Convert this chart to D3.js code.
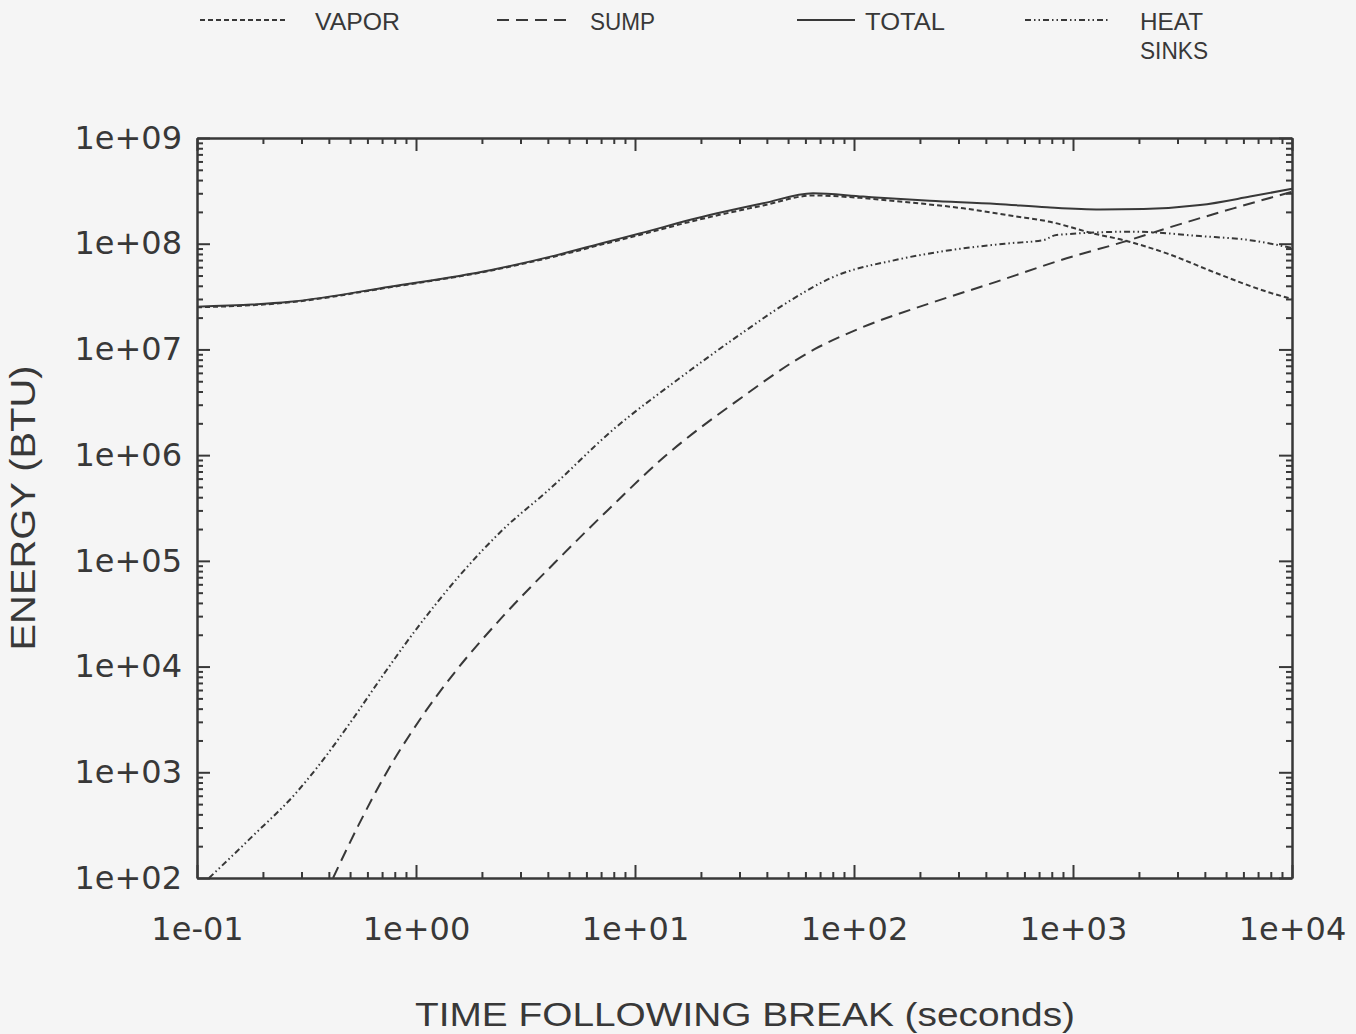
<!DOCTYPE html>
<html>
<head>
<meta charset="utf-8">
<script src="https://cdn.jsdelivr.net/npm/d3@7"></script>
<style>
  html, body { margin: 0; padding: 0; background: #f5f5f5; }
  svg { display: block; }
</style>
</head>
<body>
<script>
// Energy distribution vs time after break (log-log)
const totalTime   = [0.1, 0.266, 0.76, 2.18, 4.39, 7.43, 10.5, 19.1, 38.5, 65, 110, 222, 449, 760, 1330, 2100, 3800, 6430, 10000];
const totalEnergy = [2.54e7, 2.82e7, 3.92e7, 5.62e7, 7.8e7, 1.04e8, 1.25e8, 1.74e8, 2.41e8, 3.0e8, 2.79e8, 2.55e8, 2.38e8, 2.21e8, 2.11e8, 2.13e8, 2.32e8, 2.79e8, 3.31e8];

const vaporTime   = [0.1, 0.266, 0.76, 2.18, 4.39, 7.43, 10.5, 19.1, 38.5, 65, 110, 168, 316, 533, 785, 1240, 1700, 2680, 4530, 7660, 10000];
const vaporEnergy = [2.5e7, 2.79e7, 3.87e7, 5.55e7, 7.65e7, 1.01e8, 1.21e8, 1.67e8, 2.3e8, 2.86e8, 2.7e8, 2.49e8, 2.16e8, 1.83e8, 1.61e8, 1.25e8, 1.08e8, 8.1e7, 5.25e7, 3.52e7, 3.0e7];

const sumpTime   = [0.418, 0.55, 0.72, 1.05, 1.51, 2.51, 4.32, 7.59, 13.7, 28.8, 66.4, 110, 222, 449, 935, 1700, 2680, 5400, 10000];
const sumpEnergy = [100, 325, 929, 3230, 8930, 3.03e4, 9.7e4, 3.08e5, 9.75e5, 3.19e6, 1.01e7, 1.63e7, 2.73e7, 4.38e7, 7.28e7, 1.04e8, 1.4e8, 2.16e8, 3.1e8];

const sinksTime   = [0.1135, 0.178, 0.282, 0.355, 0.501, 0.708, 1.0, 1.58, 2.51, 3.98, 7.94, 15.8, 31.6, 50.1, 79.4, 158, 316, 515, 731, 841, 1890, 3800, 6430, 10000];
const sinksEnergy = [100, 245, 631, 1120, 2950, 8320, 2.24e4, 7.24e4, 2.0e5, 4.57e5, 1.74e6, 5.25e6, 1.48e7, 2.82e7, 4.79e7, 7.08e7, 9.04e7, 1.01e8, 1.08e8, 1.21e8, 1.3e8, 1.18e8, 1.08e8, 9.1e7];

const xDomain = [0.1, 1e4];
const yDomain = [1e2, 1e9];

const legendLabels = ["VAPOR", "SUMP", "TOTAL", "HEAT SINKS"];

const width = 1356;
const height = 1034;
const plot = { left: 197, right: 1292, top: 138, bottom: 878 };
const ink = "#383838";

const svg = d3.select("body").append("svg")
    .attr("width", width)
    .attr("height", height);

svg.append("rect")
    .attr("width", width)
    .attr("height", height)
    .attr("fill", "#f5f5f5");

const x = d3.scaleLog().domain(xDomain).range([plot.left, plot.right]);
const y = d3.scaleLog().domain(yDomain).range([plot.bottom, plot.top]);

// powers of ten and the 2..9 minors in between
function decades(domain) {
    const lo = Math.round(Math.log10(domain[0]));
    const hi = Math.round(Math.log10(domain[1]));
    const major = [], minor = [];
    for (let p = lo; p <= hi; p++) {
        major.push(Math.pow(10, p));
        if (p < hi) for (let k = 2; k <= 9; k++) minor.push(k * Math.pow(10, p));
    }
    return { major, minor };
}
const xt = decades(xDomain);
const yt = decades(yDomain);

const fmt = d => {
    const e = Math.round(Math.log10(d));
    return "1e" + (e < 0 ? "-" : "+") + String(Math.abs(e)).padStart(2, "0");
};

function styleAxis(g) {
    g.selectAll("path").attr("stroke", ink).attr("stroke-width", 2);
    g.selectAll("line").attr("stroke", ink).attr("stroke-width", 2);
    g.selectAll("text")
        .attr("fill", ink)
        .style("font-family", "'DejaVu Sans', sans-serif")
        .style("font-size", "32px");
}

// bottom
svg.append("g").attr("transform", `translate(0,${plot.bottom})`)
    .call(d3.axisBottom(x).tickValues(xt.minor).tickSize(-6).tickSizeOuter(0).tickFormat(""))
    .call(styleAxis);
svg.append("g").attr("transform", `translate(0,${plot.bottom})`)
    .call(d3.axisBottom(x).tickValues(xt.major).tickSize(-13).tickSizeOuter(0).tickPadding(39).tickFormat(fmt))
    .call(styleAxis);
// top
svg.append("g").attr("transform", `translate(0,${plot.top})`)
    .call(d3.axisTop(x).tickValues(xt.minor).tickSize(-6).tickSizeOuter(0).tickFormat(""))
    .call(styleAxis);
svg.append("g").attr("transform", `translate(0,${plot.top})`)
    .call(d3.axisTop(x).tickValues(xt.major).tickSize(-13).tickSizeOuter(0).tickFormat(""))
    .call(styleAxis);
// left
svg.append("g").attr("transform", `translate(${plot.left},0)`)
    .call(d3.axisLeft(y).tickValues(yt.minor).tickSize(-6).tickSizeOuter(0).tickFormat(""))
    .call(styleAxis);
svg.append("g").attr("transform", `translate(${plot.left},0)`)
    .call(d3.axisLeft(y).tickValues(yt.major).tickSize(-13).tickSizeOuter(0).tickPadding(15).tickFormat(fmt))
    .call(styleAxis);
// right
svg.append("g").attr("transform", `translate(${plot.right},0)`)
    .call(d3.axisRight(y).tickValues(yt.minor).tickSize(-6).tickSizeOuter(0).tickFormat(""))
    .call(styleAxis);
svg.append("g").attr("transform", `translate(${plot.right},0)`)
    .call(d3.axisRight(y).tickValues(yt.major).tickSize(-13).tickSizeOuter(0).tickFormat(""))
    .call(styleAxis);

// series
const series = [
    { name: "VAPOR", t: vaporTime, v: vaporEnergy, dash: "5,3" },
    { name: "SUMP", t: sumpTime, v: sumpEnergy, dash: "12,7" },
    { name: "TOTAL", t: totalTime, v: totalEnergy, dash: null },
    { name: "HEAT SINKS", t: sinksTime, v: sinksEnergy, dash: "6,3,1.5,3,1.5,3" }
];

const line = d3.line()
    .x(d => x(d[0]))
    .y(d => y(d[1]))
    .curve(d3.curveMonotoneX);

svg.append("g")
    .selectAll("path")
    .data(series)
    .enter().append("path")
    .attr("d", s => line(s.t.map((t, i) => [t, s.v[i]])))
    .attr("fill", "none")
    .attr("stroke", ink)
    .attr("stroke-width", 2)
    .attr("stroke-dasharray", s => s.dash);

// legend across the top
const legendPos = [
    { x1: 200, x2: 285, tx: 315, tl: [85] },
    { x1: 497, x2: 570, tx: 590, tl: [65] },
    { x1: 797, x2: 855, tx: 865, tl: [80] },
    { x1: 1025, x2: 1110, tx: 1140, tl: [63, 68] }
];
const legend = svg.append("g");
legendLabels.forEach((label, i) => {
    const p = legendPos[i];
    legend.append("line")
        .attr("x1", p.x1).attr("x2", p.x2)
        .attr("y1", 20).attr("y2", 20)
        .attr("stroke", ink)
        .attr("stroke-width", 2)
        .attr("stroke-dasharray", series[i].dash);
    label.split(" ").forEach((word, j) => {
        legend.append("text")
            .attr("x", p.tx)
            .attr("y", 30 + j * 29)
            .attr("textLength", p.tl[j])
            .attr("lengthAdjust", "spacingAndGlyphs")
            .attr("fill", ink)
            .style("font-family", "'Liberation Sans', sans-serif")
            .style("font-size", "24px")
            .text(word);
    });
});

// axis titles
svg.append("text")
    .attr("x", 745)
    .attr("y", 1026)
    .attr("text-anchor", "middle")
    .attr("textLength", 660)
    .attr("lengthAdjust", "spacingAndGlyphs")
    .attr("fill", ink)
    .style("font-family", "'Liberation Sans', sans-serif")
    .style("font-size", "34px")
    .text("TIME FOLLOWING BREAK (seconds)");

svg.append("text")
    .attr("transform", "translate(35,508) rotate(-90)")
    .attr("text-anchor", "middle")
    .attr("textLength", 285)
    .attr("lengthAdjust", "spacingAndGlyphs")
    .attr("fill", ink)
    .style("font-family", "'Liberation Sans', sans-serif")
    .style("font-size", "35px")
    .text("ENERGY (BTU)");
</script>
</body>
</html>
